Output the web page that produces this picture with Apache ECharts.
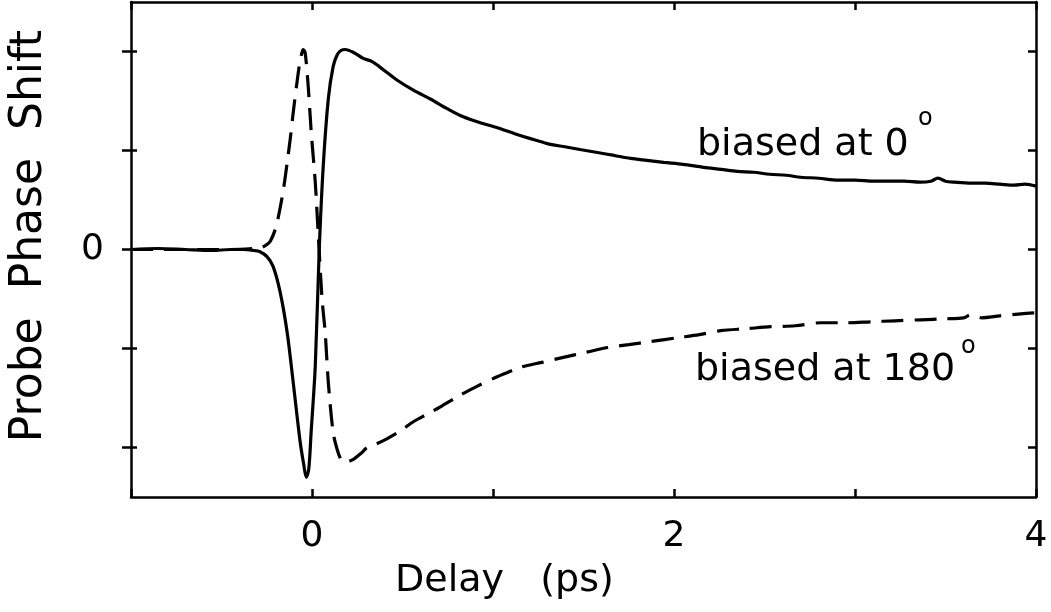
<!DOCTYPE html>
<html>
<head>
<meta charset="utf-8">
<script src="https://cdn.jsdelivr.net/npm/echarts@6/dist/echarts.min.js"></script>
<style>
html,body{margin:0;padding:0;background:#fff;}
#chart{width:1051px;height:612px;}
</style>
</head>
<body>
<div id="chart"></div>
<script>
// ---- data (delay in ps, phase shift in tick units) ----
const delaySolid = [-1.0, -0.85, -0.7, -0.55, -0.45, -0.38, -0.32, -0.29, -0.25, -0.215, -0.176, -0.137, -0.104, -0.065, -0.045, -0.032, -0.018, -0.005, 0.018, 0.040, 0.062, 0.090, 0.117, 0.140, 0.160, 0.184, 0.23, 0.283, 0.33, 0.37, 0.42, 0.471, 0.56, 0.654, 0.75, 0.836, 0.93, 1.024, 1.12, 1.207, 1.30, 1.389, 1.48, 1.577, 1.67, 1.760, 1.85, 1.943, 2.05, 2.164, 2.26, 2.35, 2.44, 2.529, 2.62, 2.70, 2.80, 2.905, 3.00, 3.10, 3.18, 3.270, 3.36, 3.42, 3.458, 3.50, 3.55, 3.640, 3.72, 3.80, 3.88, 3.94, 4.0];
const phaseSolid = [0.0, 0.01, 0.0, -0.01, 0.0, 0.0, -0.01, -0.02, -0.07, -0.17, -0.43, -0.84, -1.34, -1.95, -2.18, -2.30, -2.22, -1.85, -1.18, 0.0, 0.84, 1.52, 1.85, 1.97, 2.01, 2.02, 1.99, 1.93, 1.90, 1.85, 1.78, 1.71, 1.61, 1.52, 1.42, 1.34, 1.28, 1.23, 1.17, 1.12, 1.07, 1.04, 1.01, 0.98, 0.95, 0.92, 0.90, 0.88, 0.86, 0.83, 0.81, 0.79, 0.78, 0.76, 0.75, 0.73, 0.72, 0.70, 0.70, 0.69, 0.69, 0.69, 0.68, 0.69, 0.72, 0.69, 0.68, 0.67, 0.67, 0.66, 0.65, 0.66, 0.64];

const delayDashed = [-1.0, -0.7, -0.45, -0.32, -0.28, -0.25, -0.231, -0.200, -0.176, -0.156, -0.137, -0.120, -0.104, -0.085, -0.065, -0.055, -0.049, -0.038, -0.021, -0.004, 0.018, 0.034, 0.056, 0.073, 0.090, 0.117, 0.139, 0.160, 0.184, 0.228, 0.27, 0.305, 0.36, 0.416, 0.49, 0.56, 0.64, 0.709, 0.81, 0.914, 1.03, 1.152, 1.27, 1.389, 1.51, 1.633, 1.75, 1.871, 2.025, 2.14, 2.258, 2.40, 2.534, 2.67, 2.811, 2.95, 3.087, 3.22, 3.364, 3.50, 3.60, 3.640, 3.70, 3.80, 3.917, 4.0];
const phaseDashed = [0.0, 0.0, 0.0, 0.01, 0.02, 0.05, 0.08, 0.22, 0.42, 0.63, 0.88, 1.12, 1.38, 1.66, 1.92, 1.99, 2.02, 1.99, 1.65, 1.18, 0.68, 0.17, -0.51, -0.84, -1.34, -1.85, -2.02, -2.12, -2.15, -2.12, -2.06, -2.00, -1.96, -1.91, -1.83, -1.74, -1.66, -1.59, -1.48, -1.38, -1.28, -1.19, -1.14, -1.09, -1.04, -0.99, -0.96, -0.93, -0.89, -0.86, -0.82, -0.80, -0.78, -0.77, -0.74, -0.74, -0.73, -0.72, -0.71, -0.70, -0.69, -0.66, -0.69, -0.67, -0.65, -0.64];

const xLabelValues = [0, 2, 4];
const yLabelValues = [0];
const yTickValues = [-2, -1, 0, 1, 2];
const labelSolid = 'biased at 0';
const labelDashed = 'biased at 180';
const degreeMark = 'o';
const xTitle = 'Delay   (ps)';
const yTitle = 'Probe  Phase  Shift';

const solidData = delaySolid.map((d, i) => [d, phaseSolid[i]]);
const dashedData = delayDashed.map((d, i) => [d, phaseDashed[i]]);

const FONT = '"DejaVu Sans", "Liberation Sans", sans-serif';
const black = '#000';

const chart = echarts.init(document.getElementById('chart'), null, {renderer: 'canvas'});
const axisLine = {show: true, onZero: false, lineStyle: {color: black, width: 2.5}};

chart.setOption({
  backgroundColor: '#fff',
  animation: false,
  grid: {left: 131, right: 15, top: 2, bottom: 115, containLabel: false},
  xAxis: [
    {
      type: 'value', position: 'bottom', min: -1, max: 4, interval: 1,
      axisLine: axisLine,
      axisTick: {show: true, inside: true, length: 8, lineStyle: {color: black, width: 2.5}},
      axisLabel: {
        show: true, margin: 22, color: black, fontFamily: FONT, fontSize: 36,
        showMinLabel: true, showMaxLabel: true,
        formatter: v => (xLabelValues.indexOf(v) >= 0 ? String(v) : '')
      },
      splitLine: {show: false}
    },
    {
      type: 'value', position: 'top', min: -1, max: 4, interval: 1,
      axisLine: axisLine,
      axisTick: {show: true, inside: true, length: 8, lineStyle: {color: black, width: 2.5}},
      axisLabel: {show: false},
      splitLine: {show: false}
    }
  ],
  yAxis: [
    {
      type: 'value', position: 'left', min: -2.5, max: 2.5,
      axisLine: axisLine,
      axisTick: {show: true, inside: false, length: 9, customValues: yTickValues, lineStyle: {color: black, width: 2.5}},
      axisLabel: {show: true, margin: 27, color: black, fontFamily: FONT, fontSize: 36, customValues: yLabelValues,
        formatter: v => String(v)},
      splitLine: {show: false}
    },
    {
      type: 'value', position: 'left', min: -2.5, max: 2.5,
      axisLine: {show: false, onZero: false},
      axisTick: {show: true, inside: true, length: 6, customValues: yTickValues, lineStyle: {color: black, width: 2.5}},
      axisLabel: {show: false},
      splitLine: {show: false}
    },
    {
      type: 'value', position: 'right', min: -2.5, max: 2.5,
      axisLine: axisLine,
      axisTick: {show: true, inside: true, length: 8, customValues: yTickValues, lineStyle: {color: black, width: 2.5}},
      axisLabel: {show: false},
      splitLine: {show: false}
    }
  ],
  series: [
    {
      type: 'line', name: labelSolid, xAxisIndex: 0, yAxisIndex: 0,
      data: solidData, showSymbol: false, symbol: 'none', smooth: 0.3,
      lineStyle: {color: black, width: 3.2, type: 'solid'}
    },
    {
      type: 'line', name: labelDashed, xAxisIndex: 0, yAxisIndex: 0,
      data: dashedData, showSymbol: false, symbol: 'none', smooth: 0.3,
      lineStyle: {color: black, width: 3.2, type: [22, 11]}
    }
  ],
  graphic: [
    {type: 'text', left: 697, top: 126, style: {text: labelSolid, font: '38px ' + FONT, fill: black}},
    {type: 'text', left: 918, top: 107, style: {text: degreeMark, font: '24px ' + FONT, fill: black}},
    {type: 'text', left: 695, top: 351, style: {text: labelDashed, font: '38px ' + FONT, fill: black}},
    {type: 'text', left: 961, top: 335, style: {text: degreeMark, font: '24px ' + FONT, fill: black}},
    {type: 'text', left: 395, top: 562, style: {text: xTitle, font: '38px ' + FONT, fill: black}},
    {type: 'text', left: 8, top: 30, rotation: Math.PI / 2, style: {text: yTitle, font: '44px ' + FONT, fill: black}}
  ]
});
</script>
</body>
</html>
